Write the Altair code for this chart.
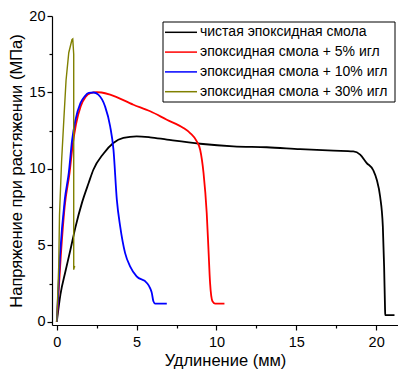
import altair as alt
import pandas as pd

names = ["чистая эпоксидная смола", "эпоксидная смола + 5% игл",
         "эпоксидная смола + 10% игл", "эпоксидная смола + 30% игл"]
colors = ["#000000", "#FF0000", "#0000FF", "#808000"]

x_pure = [0, 0.23, 0.54, 0.85, 1.17, 1.58, 2.0, 2.29, 2.92, 3.54, 4.17, 5.0, 5.84, 6.9, 8.98, 11.06,
          13.15, 15.24, 17.33, 18.57, 19.0, 19.4, 19.83, 20.04, 20.25, 20.42, 20.5, 20.56, 20.57, 21.15]
y_pure = [0, 1.8, 3.3, 4.7, 6.2, 7.8, 9.1, 9.95, 11.0, 11.7, 12.03, 12.13, 12.07, 11.92, 11.65, 11.48,
          11.42, 11.3, 11.2, 11.15, 10.94, 10.4, 9.9, 9.3, 8.2, 6.25, 3.64, 0.8, 0.44, 0.44]

x_5 = [0, 0.25, 0.5, 0.8, 1.0, 1.2, 1.5, 1.8, 2.1, 2.5, 2.8, 3.34, 4.8, 5.85, 6.89,
       7.93, 8.35, 8.77, 8.98, 9.19, 9.39, 9.5, 9.6, 9.75, 9.92, 10.5]
y_5 = [0, 4.3, 7.6, 9.74, 11.6, 12.9, 14.1, 14.7, 14.95, 15.03, 15.0, 14.86, 14.2, 13.77, 13.22,
       12.68, 12.35, 11.8, 11.26, 9.74, 7.12, 4.73, 2.55, 1.35, 1.2, 1.2]

x_10 = [0, 0.2, 0.5, 0.75, 0.96, 1.17, 1.48, 1.75, 2.0, 2.3, 2.6, 3.02, 3.34, 3.55, 3.76,
        3.97, 4.28, 4.59, 5.0, 5.64, 5.85, 5.95, 6.05, 6.16, 6.89]
y_10 = [0, 4.3, 8.0, 9.74, 11.9, 13.2, 14.3, 14.75, 14.97, 15.0, 14.86, 14.1, 12.8, 11.26, 8.0,
        6.25, 4.5, 3.64, 2.98, 2.55, 2.2, 1.9, 1.35, 1.2, 1.2]

x_30 = [0, 0.12, 0.17, 0.3, 0.44, 0.58, 0.75, 0.95, 1.0, 1.06, 1.06, 1.1, 1.15]
y_30 = [0, 3.6, 7.0, 10.5, 13.2, 15.8, 17.6, 18.45, 18.5, 17.5, 3.42, 3.6, 3.63]

rows = []
for name, xs, ys in zip(names, [x_pure, x_5, x_10, x_30], [y_pure, y_5, y_10, y_30]):
    for i, (xv, yv) in enumerate(zip(xs, ys)):
        rows.append({"series": name, "x": xv, "y": yv, "i": i})
df = pd.DataFrame(rows)

legend_df = pd.DataFrame({"series": names, "rank": list(range(len(names)))})

x_ticks = [0, 2.5, 5, 7.5, 10, 12.5, 15, 17.5, 20]
y_ticks = [0, 2.5, 5, 7.5, 10, 12.5, 15, 17.5, 20]

font = "Liberation Sans"
color_scale = alt.Scale(domain=names, range=colors)
minor = {"condition": {"test": "datum.value % 5 === 0", "value": 5}, "value": 3}

x_enc = alt.X("x:Q", scale=alt.Scale(domain=[-0.3, 21.37], nice=False, zero=False),
              axis=alt.Axis(title="Удлинение (мм)", values=x_ticks, grid=False,
                            labelExpr="datum.value % 5 === 0 ? datum.label : ''",
                            tickSize=minor,
                            labelFontSize=14.5, titleFontSize=16.5, labelPadding=5, titlePadding=4,
                            domainColor="black", tickColor="black", labelColor="black",
                            titleColor="black", labelFont=font, titleFont=font,
                            titleFontWeight="normal", domainWidth=1.2, tickWidth=1.2))
y_enc = alt.Y("y:Q", scale=alt.Scale(domain=[-0.2, 20], nice=False, zero=False),
              axis=alt.Axis(title="Напряжение при растяжении (МПа)", values=y_ticks, grid=False,
                            labelExpr="datum.value % 5 === 0 ? datum.label : ''",
                            tickSize=minor,
                            labelFontSize=14.5, titleFontSize=16.5, labelPadding=2, titlePadding=4,
                            domainColor="black", tickColor="black", labelColor="black",
                            titleColor="black", labelFont=font, titleFont=font,
                            titleFontWeight="normal", domainWidth=1.2, tickWidth=1.2))
c_enc = alt.Color("series:N", scale=color_scale, legend=None)

smooth = alt.Chart(df).transform_filter(
    alt.FieldOneOfPredicate(field="series", oneOf=names[:3])
).mark_line(strokeWidth=1.8, clip=True, interpolate="monotone").encode(
    x=x_enc, y=y_enc, color=c_enc, order=alt.Order("i:Q"),
)

sharp = alt.Chart(df).transform_filter(
    alt.FieldOneOfPredicate(field="series", oneOf=names[3:])
).mark_line(strokeWidth=1.4, clip=True).encode(
    x=x_enc, y=y_enc, color=c_enc, order=alt.Order("i:Q"),
)

box = alt.Chart(pd.DataFrame({"a": [0]})).mark_rect(
    fill="white", stroke="black", strokeWidth=1
).encode(x=alt.value(111), x2=alt.value(343), y=alt.value(6), y2=alt.value(86))

leg_rules = alt.Chart(legend_df).transform_calculate(
    ly="16.3 + 19.8 * datum.rank"
).mark_rule(strokeWidth=1.5).encode(
    x=alt.value(113), x2=alt.value(145),
    y=alt.Y("ly:Q", scale=None, axis=None),
    color=alt.Color("series:N", scale=color_scale, legend=None),
)

leg_text = alt.Chart(legend_df).transform_calculate(
    ly="16.3 + 19.8 * datum.rank"
).mark_text(align="left", baseline="middle", fontSize=14, font=font, color="black").encode(
    x=alt.value(148),
    y=alt.Y("ly:Q", scale=None, axis=None),
    text="series:N",
)

chart = alt.layer(smooth, sharp, box, leg_rules, leg_text).properties(
    width=346, height=309,
    autosize=alt.AutoSizeParams(type="none"),
    padding={"left": 44, "top": 8, "right": 0, "bottom": 44},
).configure_view(stroke=None)

chart.save("out.html", embed_options={"renderer": "svg", "actions": False})
